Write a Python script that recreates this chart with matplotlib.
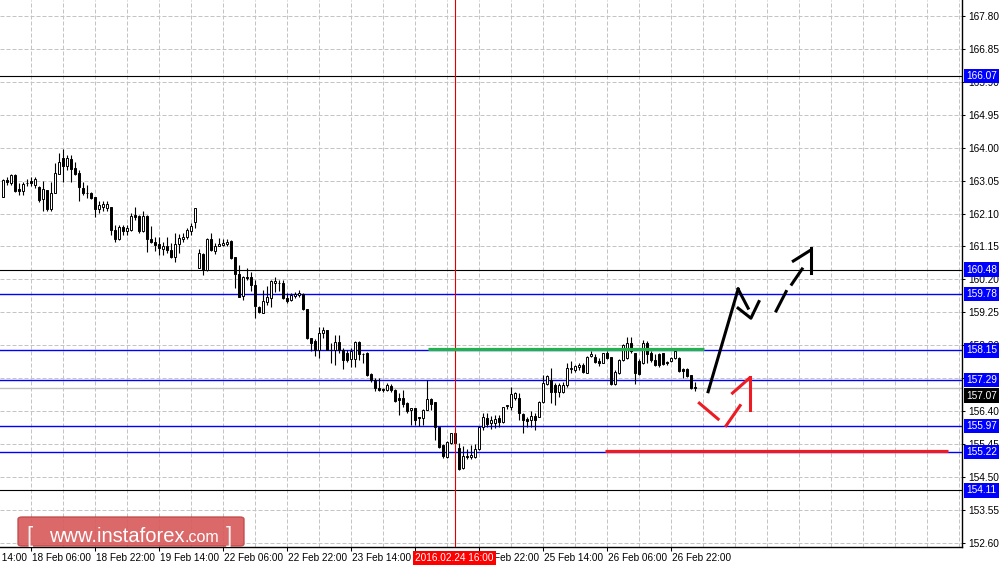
import matplotlib
matplotlib.use('Agg')
import matplotlib.pyplot as plt
import matplotlib.transforms as mtransforms
from matplotlib.patches import FancyBboxPatch

plt.rcParams['font.family'] = ['Liberation Sans', 'DejaVu Sans']

# H1 свечи (open/high/low/close)
opens = [162.59, 163.07, 162.97, 163.21, 162.81, 162.76, 162.97, 163.04, 162.93, 162.86,
         162.51, 162.78, 162.22, 162.68, 163.23, 163.69, 163.48, 163.66, 163.40, 163.26,
         162.83, 162.69, 162.68, 162.57, 162.22, 162.30, 162.25, 162.30, 161.63, 161.37,
         161.70, 161.61, 161.63, 162.06, 162.04, 161.61, 162.03, 161.37, 161.29, 161.21,
         161.08, 161.15, 161.05, 160.86, 161.22, 161.36, 161.43, 161.61, 161.85, 160.54,
         160.92, 160.47, 161.37, 161.02, 161.17, 161.19, 161.21, 161.31, 160.84, 160.35,
         159.72, 160.28, 160.28, 160.04, 159.40, 159.24, 159.56, 159.66, 160.09, 160.09,
         160.09, 159.66, 159.60, 159.73, 159.75, 159.77, 159.35, 158.50, 158.41, 158.16,
         158.65, 158.74, 158.17, 158.16, 158.39, 158.15, 158.07, 157.90, 157.90, 158.39,
         158.05, 158.09, 157.47, 157.30, 157.06, 157.04, 157.01, 157.13, 157.01, 156.77,
         156.77, 156.63, 156.42, 156.48, 156.22, 156.19, 156.43, 156.76, 156.65, 155.95,
         155.42, 155.09, 155.47, 155.47, 155.33, 154.75, 155.11, 155.09, 155.09, 155.30,
         155.95, 156.19, 156.07, 156.05, 156.19, 156.10, 156.54, 156.53, 156.77, 156.77,
         156.32, 156.17, 156.13, 156.26, 156.24, 156.65, 157.18, 157.30, 157.16, 156.96,
         156.96, 157.16, 157.61, 157.59, 157.68, 157.73, 157.51, 157.99, 157.97, 157.86,
         157.80, 158.07, 157.97, 157.18, 157.49, 157.88, 157.92, 158.36, 158.07, 157.86,
         157.78, 158.36, 158.07, 157.88, 158.05, 158.07, 157.83, 157.85, 157.92, 157.92,
         157.61, 157.61, 157.44, 157.09]
closes = [163.07, 163.00, 163.21, 162.76, 162.76, 162.94, 162.99, 162.97, 163.11, 162.49,
          162.80, 162.22, 162.70, 163.26, 163.58, 163.48, 163.69, 163.39, 163.23, 162.86,
          162.68, 162.68, 162.54, 162.22, 162.35, 162.37, 162.37, 161.63, 161.36, 161.70,
          161.61, 161.67, 162.03, 162.01, 161.61, 162.03, 161.37, 161.27, 161.19, 161.12,
          161.16, 161.05, 160.86, 161.21, 161.39, 161.43, 161.63, 161.74, 162.25, 160.95,
          160.47, 161.37, 161.05, 161.16, 161.22, 161.24, 161.27, 160.81, 160.35, 159.70,
          160.28, 160.25, 160.04, 159.42, 159.27, 159.58, 159.70, 160.14, 160.14, 160.09,
          159.66, 159.58, 159.75, 159.78, 159.82, 159.35, 158.50, 158.36, 158.16, 158.65,
          158.74, 158.16, 158.15, 158.39, 158.16, 157.88, 157.88, 158.12, 158.39, 158.05,
          158.04, 157.44, 157.30, 157.06, 157.00, 157.00, 157.16, 157.01, 156.70, 156.72,
          156.61, 156.39, 156.48, 156.15, 156.19, 156.43, 156.74, 156.61, 155.95, 155.36,
          155.10, 155.52, 155.76, 155.78, 154.72, 155.11, 155.07, 155.14, 155.30, 155.95,
          156.22, 156.03, 156.15, 156.17, 156.10, 156.51, 156.58, 156.89, 156.92, 156.34,
          156.13, 156.12, 156.26, 156.13, 156.67, 157.20, 157.40, 156.96, 156.96, 157.16,
          157.16, 157.64, 157.64, 157.70, 157.73, 157.54, 157.97, 158.05, 157.83, 157.80,
          158.07, 157.92, 157.18, 157.54, 157.88, 158.31, 158.36, 158.12, 157.49, 157.47,
          158.36, 158.05, 157.88, 157.73, 157.73, 157.76, 157.78, 157.92, 158.12, 157.57,
          157.57, 157.41, 157.06, 157.07]
highs = [163.10, 163.14, 163.23, 163.23, 162.97, 163.02, 163.10, 163.15, 163.15, 162.88,
         163.05, 162.78, 163.02, 163.55, 163.84, 163.96, 163.79, 163.79, 163.60, 163.36,
         163.02, 162.92, 162.73, 162.59, 162.46, 162.46, 162.46, 162.30, 161.77, 161.77,
         161.77, 161.77, 162.11, 162.30, 162.06, 162.18, 162.06, 161.74, 161.43, 161.43,
         161.29, 161.43, 161.24, 161.53, 161.50, 161.53, 161.67, 161.82, 162.25, 161.07,
         160.95, 161.39, 161.53, 161.24, 161.39, 161.37, 161.37, 161.34, 160.86, 160.62,
         160.30, 160.52, 160.42, 160.18, 159.42, 159.88, 160.01, 160.18, 160.28, 160.18,
         160.18, 159.80, 159.80, 159.85, 159.90, 159.80, 159.35, 158.50, 158.47, 158.84,
         158.84, 158.74, 158.37, 158.60, 158.60, 158.21, 158.16, 158.21, 158.42, 158.42,
         158.07, 158.10, 157.49, 157.35, 157.35, 157.06, 157.20, 157.18, 157.03, 156.92,
         157.01, 156.67, 156.48, 156.48, 156.24, 156.45, 157.30, 156.77, 156.65, 155.95,
         155.44, 155.54, 155.76, 155.80, 155.47, 155.40, 155.30, 155.43, 155.44, 155.97,
         156.34, 156.34, 156.26, 156.29, 156.29, 156.53, 156.58, 157.11, 156.96, 156.93,
         156.34, 156.22, 156.39, 156.34, 156.69, 157.44, 157.44, 157.64, 157.20, 157.20,
         157.25, 157.78, 157.86, 157.73, 157.78, 157.78, 157.99, 158.12, 158.05, 157.93,
         158.09, 158.12, 157.97, 157.59, 157.90, 158.34, 158.53, 158.53, 158.09, 157.90,
         158.45, 158.41, 158.12, 158.05, 158.07, 158.07, 157.86, 157.97, 158.15, 157.97,
         157.64, 157.64, 157.44, 157.25]
lows = [162.57, 162.92, 162.92, 162.73, 162.64, 162.64, 162.88, 162.88, 162.83, 162.44,
        162.18, 162.18, 162.18, 162.68, 163.23, 163.02, 163.36, 163.02, 163.21, 162.47,
        162.64, 162.54, 162.51, 162.01, 162.11, 162.16, 162.16, 161.48, 161.29, 161.34,
        161.48, 161.48, 161.61, 161.92, 161.53, 161.58, 161.00, 161.24, 161.02, 160.91,
        160.91, 160.95, 160.81, 160.71, 160.95, 161.29, 161.36, 161.48, 161.67, 160.52,
        160.33, 160.45, 161.03, 160.93, 161.15, 161.15, 161.16, 160.78, 159.94, 159.70,
        159.61, 160.18, 159.87, 159.10, 159.22, 159.22, 159.46, 159.39, 159.85, 159.87,
        159.63, 159.53, 159.58, 159.66, 159.70, 159.32, 158.47, 158.12, 157.99, 157.94,
        158.50, 158.16, 157.80, 157.73, 158.07, 157.61, 157.83, 157.66, 157.68, 157.88,
        157.78, 157.42, 157.25, 156.98, 156.98, 156.96, 156.98, 156.96, 156.67, 156.29,
        156.53, 156.34, 156.00, 156.00, 155.98, 156.00, 156.42, 156.43, 155.57, 155.33,
        155.06, 155.06, 155.45, 155.45, 154.69, 154.72, 155.01, 155.01, 155.06, 155.28,
        155.86, 155.95, 155.88, 155.91, 155.93, 156.07, 156.45, 156.43, 156.72, 156.15,
        155.76, 155.95, 155.93, 155.86, 156.22, 156.63, 157.16, 156.63, 156.58, 156.82,
        156.93, 157.11, 157.49, 157.54, 157.59, 157.51, 157.49, 157.97, 157.80, 157.70,
        157.78, 157.90, 157.16, 157.16, 157.47, 157.86, 157.90, 158.07, 157.18, 157.44,
        157.76, 157.78, 157.83, 157.70, 157.68, 157.73, 157.73, 157.83, 157.90, 157.54,
        157.35, 157.38, 157.03, 156.99]

# подписи времени (номер бара -> дата)
time_idx = [-9, 7, 23, 39, 55, 71, 87, 103, 119, 135, 151, 167]
time_labels = ['17 Feb 14:00', '18 Feb 06:00', '18 Feb 22:00', '19 Feb 14:00',
               '22 Feb 06:00', '22 Feb 22:00', '23 Feb 14:00', '24 Feb 06:00',
               '24 Feb 22:00', '25 Feb 14:00', '26 Feb 06:00', '26 Feb 22:00']
cursor_idx = 113
cursor_label = '2016.02.24 16:00'

# ценовая шкала
price_ticks = [152.60, 153.55, 154.50, 155.45, 156.40, 157.35, 158.30, 159.25, 160.20,
               161.15, 162.10, 163.05, 164.00, 164.95, 165.90, 166.85, 167.80]

# уровни
blue_levels = [159.78, 158.15, 157.29, 155.97, 155.22]
black_levels = [166.07, 160.48, 154.11]
bid = 157.07

# разметка аналитика (номер бара, цена)
green_x, green_y = [106.2, 175.2], [158.19, 158.19]
redline_x, redline_y = [150.4, 236.2], [155.25, 155.25]
black_solid = [([176.2, 183.7], [156.96, 159.92]),
               ([183.7, 186.2], [159.92, 159.37]),
               ([183.7, 186.9, 188.9], [159.37, 159.08, 159.56]),
               ([193.2, 195.7], [159.29, 159.85]),
               ([197.1, 199.7], [160.06, 160.50]),
               ([197.5, 201.5], [160.73, 161.02]),
               ([201.9, 201.9], [161.10, 160.38])]
red_strokes = [([174.0, 178.7], [156.63, 156.17]),
               ([180.7, 184.2], [155.98, 156.56]),
               ([182.3, 186.5], [156.92, 157.35]),
               ([186.7, 186.7], [157.37, 156.43])]

W, H = 1003, 568
fig = plt.figure(figsize=(W / 100, H / 100), dpi=100)
ax = fig.add_axes([0, 21 / H, 962 / W, 547 / H])
ax.set_xlim(-0.83, 239.67)
ax.set_ylim(152.48, 168.26)

grid_kw = dict(color='#c4c4c4', lw=0.72, ls=(0, (4, 2)), zorder=0)
for v in range(7, 240, 8):
    ax.axvline(v, **grid_kw)
for p in price_ticks:
    ax.axhline(p, **grid_kw)

# свечи
idx = list(range(len(opens)))
ax.vlines(idx, lows, highs, color='black', lw=0.8, zorder=3)
bottoms = [min(o, c) for o, c in zip(opens, closes)]
heights = [max(abs(c - o), 0.005) for o, c in zip(opens, closes)]
faces = ['white' if c >= o else 'black' for o, c in zip(opens, closes)]
ax.bar(idx, heights, bottom=bottoms, width=0.55, color=faces, edgecolor='black',
       linewidth=0.7, zorder=4)

# горизонтальные уровни
ax.axhline(bid, color='#c0c0c0', lw=1.0, zorder=1)
for lv in blue_levels:
    ax.axhline(lv, color='#0000ff', lw=1.0, zorder=2)
for lv in black_levels:
    ax.axhline(lv, color='black', lw=0.8, zorder=2)

ax.axvline(cursor_idx, color='#e00000', lw=0.8, zorder=5)

ax.plot(green_x, green_y, color='#22b14c', lw=2.3, solid_capstyle='butt', zorder=6)
ax.plot(redline_x, redline_y, color='#ed1c24', lw=2.3, solid_capstyle='butt', zorder=6)
for xs, ys in black_solid:
    ax.plot(xs, ys, color='black', lw=2.2, zorder=6)
for xs, ys in red_strokes:
    ax.plot(xs, ys, color='#ed1c24', lw=2.2, zorder=6)

# оси
for s in ['left', 'top']:
    ax.spines[s].set_visible(False)
ax.spines['right'].set_linewidth(1.0)
ax.spines['bottom'].set_linewidth(1.0)
ax.yaxis.tick_right()
ax.set_yticks(price_ticks)
ax.set_yticklabels([f'{p:.2f}' for p in price_ticks])
ax.tick_params(axis='y', direction='out', length=2.5, width=0.75, pad=2, labelsize=7.3)
ax.set_xticks([t for t in time_idx if t >= 0])
ax.set_xticklabels([])
ax.tick_params(axis='x', direction='out', length=3, width=0.75)

tx = mtransforms.blended_transform_factory(ax.transData, ax.transAxes)
for t, lab in zip(time_idx, time_labels):
    ax.text(t + 0.2, -0.011, lab, transform=tx, ha='left', va='top', fontsize=7.2,
            clip_on=False)
ax.text(cursor_idx - 0.2, -0.011, cursor_label, transform=tx, ha='center', va='top',
        fontsize=7.2, color='white', clip_on=False, zorder=10,
        bbox=dict(boxstyle='square,pad=0.2', fc='#ff0000', ec='none'))

ty = mtransforms.blended_transform_factory(fig.transFigure, ax.transData)
for lv in blue_levels + black_levels:
    ax.text(981.5 / W, lv, f'{lv:.2f}', transform=ty, ha='center', va='center',
            fontsize=7.3, color='white', clip_on=False, zorder=10,
            bbox=dict(boxstyle='square,pad=0.22', fc='#0000ff', ec='none'))
ax.text(981.5 / W, bid - 0.22, f'{bid:.2f}', transform=ty, ha='center', va='center',
        fontsize=7.3, color='white', clip_on=False, zorder=10,
        bbox=dict(boxstyle='square,pad=0.22', fc='black', ec='none'))

# логотип
fig.patches.append(FancyBboxPatch((18 / W, (H - 546) / H), 226 / W, 29 / H,
                                  boxstyle='round,pad=0,rounding_size=0.004',
                                  transform=fig.transFigure, fc='#d95c5c',
                                  ec='#c04848', lw=1.0, alpha=0.92, zorder=20))
base = (H - 542) / H
fig.text(30 / W, base, '[', color='#f4f4f4', fontsize=16, va='baseline', ha='center', zorder=21)
fig.text(185 / W, base, 'www.instaforex', color='white', fontsize=14.5, va='baseline',
         ha='right', zorder=21)
fig.text(185 / W, base, '.com', color='white', fontsize=11.5, va='baseline', ha='left',
         zorder=21)
fig.text(229 / W, base, ']', color='#f4f4f4', fontsize=16, va='baseline', ha='center', zorder=21)

fig.savefig('out.png', dpi=100)
